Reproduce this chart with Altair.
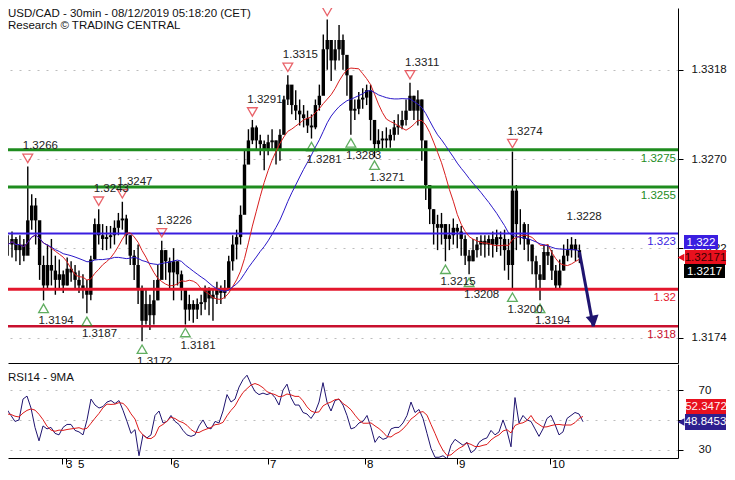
import altair as alt
import pandas as pd

# ---------------- data (hourly bars) ----------------
highs = [
    1.3229, 1.3231, 1.3228, 1.3229, 1.3227, 1.3266, 1.3251, 1.3249, 1.3232, 1.3218,
    1.3224, 1.3227, 1.3218, 1.3216, 1.3210, 1.3217, 1.3215, 1.3213, 1.3210, 1.3208,
    1.3205, 1.3218, 1.3238, 1.3243, 1.3235, 1.3234, 1.3234, 1.3237, 1.3241, 1.3247,
    1.3240, 1.3229, 1.3221, 1.3224, 1.3202, 1.3200, 1.3197, 1.3205, 1.3213, 1.3226,
    1.3221, 1.3217, 1.3222, 1.3215, 1.3210, 1.3200, 1.3197, 1.3194, 1.3195, 1.3197,
    1.3202, 1.3201, 1.3200, 1.3204, 1.3202, 1.3205, 1.3218, 1.3229, 1.3232, 1.3245,
    1.3275, 1.3286, 1.3291, 1.3288, 1.3283, 1.3280, 1.3283, 1.3286, 1.3280, 1.3286,
    1.3304, 1.3315, 1.3307, 1.3307, 1.3302, 1.3299, 1.3296, 1.3294, 1.3302, 1.3310,
    1.3337, 1.3345, 1.3334, 1.3334, 1.3342, 1.3337, 1.3323, 1.3310, 1.3302, 1.3306,
    1.3308, 1.3310, 1.3310, 1.3286, 1.3286, 1.3285, 1.3287, 1.3286, 1.3291, 1.3294,
    1.3296, 1.3302, 1.3311, 1.3304, 1.3307, 1.3302, 1.3275, 1.3253, 1.3243, 1.3240,
    1.3241, 1.3235, 1.3235, 1.3238, 1.3235, 1.3234, 1.3229, 1.3221, 1.3227, 1.3228,
    1.3229, 1.3229, 1.3229, 1.3231, 1.3232, 1.3231, 1.3232, 1.3227, 1.3274, 1.3256,
    1.3243, 1.3236, 1.3235, 1.3224, 1.3218, 1.3213, 1.3224, 1.3224, 1.3221, 1.3213,
    1.3216, 1.3224, 1.3227, 1.3228, 1.3227, 1.3224,
]
lows = [
    1.3218, 1.3217, 1.3215, 1.3213, 1.3215, 1.3221, 1.3232, 1.3224, 1.3205, 1.3194,
    1.3200, 1.3202, 1.3197, 1.3200, 1.3198, 1.3202, 1.3204, 1.3200, 1.3198, 1.3195,
    1.3187, 1.3194, 1.3216, 1.3224, 1.3221, 1.3221, 1.3222, 1.3224, 1.3229, 1.3232,
    1.3224, 1.3213, 1.3205, 1.3192, 1.3172, 1.3181, 1.3178, 1.3181, 1.3194, 1.3208,
    1.3205, 1.3200, 1.3194, 1.3202, 1.3194, 1.3181, 1.3183, 1.3182, 1.3184, 1.3186,
    1.3189, 1.3186, 1.3183, 1.3192, 1.3192, 1.3195, 1.3200, 1.3210, 1.3216, 1.3224,
    1.3248, 1.3269, 1.3278, 1.3275, 1.3272, 1.3264, 1.3272, 1.3275, 1.3267, 1.3269,
    1.3286, 1.3299, 1.3294, 1.3291, 1.3288, 1.3287, 1.3284, 1.3281, 1.3286, 1.3296,
    1.3307, 1.3318, 1.3312, 1.3318, 1.3323, 1.3318, 1.3304, 1.3283, 1.3291, 1.3294,
    1.3297, 1.3299, 1.3280, 1.3271, 1.3274, 1.3275, 1.3276, 1.3276, 1.3280, 1.3283,
    1.3286, 1.3288, 1.3296, 1.3291, 1.3288, 1.3269, 1.3248, 1.3235, 1.3224, 1.3221,
    1.3224, 1.3215, 1.3221, 1.3224, 1.3222, 1.3218, 1.3213, 1.3208, 1.3215, 1.3217,
    1.3218, 1.3217, 1.3218, 1.3217, 1.3220, 1.3218, 1.3210, 1.3205, 1.3200, 1.3221,
    1.3224, 1.3221, 1.3215, 1.3208, 1.3200, 1.3194, 1.3205, 1.3213, 1.3205, 1.3200,
    1.3200, 1.3210, 1.3215, 1.3217, 1.3215, 1.3214,
]
closes = [
    1.3224, 1.3227, 1.3221, 1.3224, 1.3218, 1.3237, 1.3245, 1.3237, 1.3213, 1.3202,
    1.3213, 1.3210, 1.3205, 1.3208, 1.3202, 1.3211, 1.3209, 1.3205, 1.3202, 1.3200,
    1.3197, 1.3216, 1.3235, 1.3229, 1.3227, 1.3228, 1.3229, 1.3233, 1.3237, 1.3238,
    1.3229, 1.3218, 1.3213, 1.3200, 1.3183, 1.3192, 1.3186, 1.3194, 1.3205, 1.3221,
    1.3215, 1.3209, 1.3215, 1.3208, 1.3200, 1.3189, 1.3192, 1.3189, 1.3192, 1.3193,
    1.3200, 1.3195, 1.3197, 1.3200, 1.3198, 1.3200, 1.3215, 1.3224, 1.3228, 1.3240,
    1.3267, 1.3280, 1.3287, 1.3280, 1.3278, 1.3275, 1.3279, 1.3280, 1.3275, 1.3283,
    1.3302, 1.3310, 1.3299, 1.3296, 1.3294, 1.3292, 1.3288, 1.3287, 1.3299, 1.3304,
    1.3329, 1.3334, 1.3323, 1.3329, 1.3334, 1.3326, 1.3315, 1.3296, 1.3297, 1.3302,
    1.3303, 1.3307, 1.3291, 1.3278, 1.3280, 1.3281, 1.3280, 1.3283, 1.3287, 1.3288,
    1.3291, 1.3296, 1.3304, 1.3296, 1.3302, 1.3280, 1.3256, 1.3243, 1.3235, 1.3233,
    1.3235, 1.3227, 1.3229, 1.3233, 1.3231, 1.3227, 1.3218, 1.3215, 1.3221, 1.3224,
    1.3226, 1.3224, 1.3227, 1.3224, 1.3228, 1.3227, 1.3221, 1.3213, 1.3253, 1.3235,
    1.3235, 1.3227, 1.3224, 1.3215, 1.3208, 1.3205, 1.3220, 1.3218, 1.3210, 1.3202,
    1.3210, 1.3218, 1.3221, 1.3224, 1.3221, 1.3217,
]
rsi_values = [
    51, 57, 53, 49, 50, 64, 66, 58, 45, 36,
    46, 44, 45, 41, 40, 45, 47, 47, 43, 42,
    40, 50, 64, 60, 58, 59, 62, 63, 61, 63,
    56.5, 49, 41, 43.5, 26, 40, 38, 40, 53, 56,
    48, 49, 53, 49, 47, 43, 40, 39, 40, 46,
    50, 45, 44, 49, 48, 56, 67, 62, 64, 72,
    77, 80, 74, 69, 67, 68, 67, 68, 65, 60,
    70, 74, 65, 60, 60, 55, 54, 51, 55, 62,
    75, 62, 56, 63, 64, 60, 53, 44, 45, 48,
    49, 53, 45, 35, 39, 37, 38, 44, 45, 45,
    48, 53, 62, 55, 57, 51, 41, 31, 25, 25,
    26, 24, 33, 37, 35, 33, 35, 28, 30, 35,
    37, 38, 43, 40, 42, 50, 42.5, 32, 65, 48,
    53, 50, 49, 44, 39, 44, 51, 53, 47, 40,
    42, 51, 53, 55, 54, 48.8,
]

level_prices = [1.3275, 1.3255, 1.323, 1.32, 1.318]
level_labels = ["1.3275", "1.3255", "1.323", "1.32", "1.318"]

peak_bars = [5, 23, 29, 39, 62, 71, 81, 102, 128]
peak_prices = [1.3266, 1.3243, 1.3247, 1.3226, 1.3291, 1.3315, 1.3345, 1.3311, 1.3274]
trough_bars = [9, 20, 34, 45, 77, 87, 93, 111, 117, 128, 135]
trough_prices = [1.3194, 1.3187, 1.3172, 1.3181, 1.3281, 1.3283, 1.3271, 1.3215, 1.3208, 1.3200, 1.3194]
open_high_bars = [143]
open_high_prices = [1.3228]

target_bars = [145, 148.5]
target_prices = [1.3220, 1.3180]

day_tick_pos = [14.75, 15.75, 42, 66.25, 90.5, 113.5, 136.75]
day_label_pos = [15.75, 18.75, 42.5, 66.75, 91, 114, 137.25]
day_labels = ["3", "5", "6", "7", "8", "9", "10"]

price_ticks = [1.3174, 1.3222, 1.3270, 1.3318]
rsi_ticks = [30, 50, 70]

# ---------------- styling ----------------
W, HM, HR = 670, 355, 94
FONT = "Liberation Sans"
GREEN, BLUE, RED, RED2 = "#1e8c1e", "#3a1ee0", "#e3172d", "#c8102e"
NAVY = "#1f1470"

bars = pd.DataFrame({"i": list(range(len(closes))), "high": highs, "low": lows, "close": closes})
rsi_df = pd.DataFrame({"i": list(range(len(rsi_values))), "rsi": rsi_values})
levels = pd.DataFrame({
    "price": level_prices, "label": level_labels,
    "color": [GREEN, GREEN, BLUE, RED, RED2], "w": [3, 3, 2, 3, 2.5],
})
peaks = pd.DataFrame({"i": peak_bars, "price": peak_prices})
troughs = pd.DataFrame({"i": trough_bars, "price": trough_prices})
open_high = pd.DataFrame({"i": open_high_bars, "price": open_high_prices})
target = pd.DataFrame({"i": target_bars, "price": target_prices})
days = pd.DataFrame({"pos": day_label_pos, "label": day_labels})
one = pd.DataFrame({"a": [0]})

x_scale = alt.Scale(domain=[1.25, 168.75], nice=False, zero=False)
y_scale = alt.Scale(domain=[1.31603, 1.33512], nice=False, zero=False)
r_scale = alt.Scale(domain=[24.5, 87.5], nice=False, zero=False)

x_axis_main = alt.Axis(labels=False, ticks=False, grid=False, domain=True,
                       domainColor="black", title=None)
y_axis_main = alt.Axis(orient="right", values=price_ticks, format=".4f", grid=True,
                       gridColor="#bdbdbd", gridDash=[2, 7], tickSize=5, tickColor="black",
                       domainColor="black", labelPadding=8, labelFontSize=11.5,
                       labelColor="#111111", title=None)
x_axis_rsi = alt.Axis(values=day_tick_pos, labels=False, tickSize=6, tickColor="black",
                      domainColor="black", grid=False, title=None)
y_axis_rsi = alt.Axis(orient="right", values=rsi_ticks, format="d", grid=True,
                      gridColor="#bdbdbd", gridDash=[2, 7], tickSize=5, tickColor="black",
                      domainColor="black", labelPadding=15, labelFontSize=11.5,
                      labelColor="#111111", title=None)


def xm(f):
    return alt.X(f, type="quantitative", scale=x_scale, axis=x_axis_main)


def ym(f):
    return alt.Y(f, type="quantitative", scale=y_scale, axis=y_axis_main)


def xr(f):
    return alt.X(f, type="quantitative", scale=x_scale, axis=x_axis_rsi)


def yr(f):
    return alt.Y(f, type="quantitative", scale=r_scale, axis=y_axis_rsi)


# ---------------- main panel ----------------
wicks = alt.Chart(bars).mark_rule(color="black", strokeWidth=1.4, clip=True).encode(
    x=xm("i"), y=ym("low"), y2="high")
bodies = alt.Chart(bars).transform_window(
    prev="lag(close)", sort=[alt.SortField("i")]
).mark_bar(color="black", size=3.4, clip=True).encode(x=xm("i"), y=ym("prev"), y2="close")

level_rules = alt.Chart(levels).mark_rule(clip=True).encode(
    y=ym("price"), color=alt.Color("color:N", scale=None),
    strokeWidth=alt.StrokeWidth("w:Q", scale=None))
level_text = alt.Chart(levels).mark_text(
    align="right", baseline="middle", dy=9, fontSize=11.5, font=FONT, clip=True
).encode(x=alt.value(W - 2), y=ym("price"), text="label:N",
         color=alt.Color("color:N", scale=None))

ma_fast = alt.Chart(bars).transform_window(
    ma="mean(close)", frame=[-9, 0], sort=[alt.SortField("i")]
).mark_line(color="#d81e1e", strokeWidth=1, clip=True).encode(x=xm("i"), y=ym("ma"))
ma_slow = alt.Chart(bars).transform_window(
    ma="mean(close)", frame=[-22, 0], sort=[alt.SortField("i")]
).mark_line(color="#2a18c8", strokeWidth=1, clip=True).encode(x=xm("i"), y=ym("ma"))

peak_pts = alt.Chart(peaks).mark_point(
    shape="triangle-down", filled=False, size=95, strokeWidth=1.3, color="#e0202a",
    yOffset=-8, clip=True).encode(x=xm("i"), y=ym("price"))
peak_txt = alt.Chart(pd.concat([peaks, open_high])).mark_text(
    align="left", baseline="middle", dx=-5, dy=-20, fontSize=11.5, font=FONT,
    color="#222222", clip=True).encode(x=xm("i"), y=ym("price"),
                                      text=alt.Text("price:Q", format=".4f"))
trough_pts = alt.Chart(troughs).mark_point(
    shape="triangle-up", filled=False, size=95, strokeWidth=1.3, color=GREEN,
    yOffset=8, clip=True).encode(x=xm("i"), y=ym("price"))
trough_txt = alt.Chart(troughs).mark_text(
    align="left", baseline="middle", dx=-5, dy=21, fontSize=11.5, font=FONT,
    color="#222222", clip=True).encode(x=xm("i"), y=ym("price"),
                                      text=alt.Text("price:Q", format=".4f"))

arrow_line = alt.Chart(target).mark_line(color=NAVY, strokeWidth=3, clip=True).encode(
    x=xm("i"), y=ym("price"))
arrow_head = alt.Chart(target.tail(1)).mark_point(
    shape="triangle-down", filled=True, size=170, angle=349, color=NAVY, opacity=1,
    yOffset=-5, clip=True).encode(x=xm("i"), y=ym("price"))

title1 = alt.Chart(one).mark_text(
    align="left", baseline="top", fontSize=11.5, font=FONT, color="#111111",
    text="USD/CAD - 30min - 08/12/2019 05:18:20 (CET)").encode(x=alt.value(0), y=alt.value(0))
title2 = alt.Chart(one).mark_text(
    align="left", baseline="top", fontSize=11.5, font=FONT, color="#111111",
    text="Research \u00a9 TRADING CENTRAL").encode(x=alt.value(0), y=alt.value(12))


def box(x1, x2, y1, y2, fill):
    return alt.Chart(one).mark_rect(color=fill).encode(
        x=alt.value(x1), x2=alt.value(x2), y=alt.value(y1), y2=alt.value(y2))


def box_text(x, y, txt, color):
    return alt.Chart(one).mark_text(
        align="center", baseline="middle", fontSize=11.5, font=FONT, color=color, text=txt
    ).encode(x=alt.value(x), y=alt.value(y))


def pointer(x, y, fill):
    return alt.Chart(one).mark_point(
        shape="triangle-left", filled=True, size=60, color=fill, opacity=1
    ).encode(x=alt.value(x), y=alt.value(y))


main_boxes = [
    box(676, 710, 227, 241, BLUE), box_text(693, 234.5, "1.322", "white"),
    pointer(673, 249.5, "#e8101e"), box(677, 718, 242, 257, "#e8101e"),
    box_text(697.5, 250, "1.32171", "#3a0000"),
    box(676, 717, 256, 270, "black"), box_text(696.5, 263.5, "1.3217", "white"),
]

main = alt.layer(
    wicks, bodies, level_rules, level_text, ma_fast, ma_slow,
    peak_pts, peak_txt, trough_pts, trough_txt, arrow_line, arrow_head,
    title1, title2, *main_boxes
).properties(width=W, height=HM)

# ---------------- RSI panel ----------------
rsi_line = alt.Chart(rsi_df).mark_line(color=NAVY, strokeWidth=1, clip=True).encode(
    x=xr("i"), y=yr("rsi"))
rsi_ma = alt.Chart(rsi_df).transform_window(
    ma="mean(rsi)", frame=[-4, 0], sort=[alt.SortField("i")]
).mark_line(color="#dd1c1c", strokeWidth=1, clip=True).encode(x=xr("i"), y=yr("ma"))
rsi_title = alt.Chart(one).mark_text(
    align="left", baseline="middle", fontSize=11.5, font=FONT, color="#111111",
    text="RSI14 - 9MA").encode(x=alt.value(0), y=alt.value(14))
day_txt = alt.Chart(days).mark_text(
    align="left", baseline="middle", fontSize=11.5, font=FONT, color="black"
).encode(x=xr("pos"), y=alt.value(HR + 6.5), text="label:N")

rsi_boxes = [
    box(678, 718, 35, 50, "#e8101e"), box_text(698, 42.5, "52.3472", "#fff0f0"),
    pointer(673, 58, "#2e1f8f"), box(677, 718, 50, 66, "#2e1f8f"),
    box_text(697.5, 58, "48.8453", "white"),
]

rsi_panel = alt.layer(rsi_line, rsi_ma, rsi_title, day_txt, *rsi_boxes).properties(
    width=W, height=HR)

chart = alt.vconcat(main, rsi_panel, spacing=1).properties(
    padding={"left": 0, "top": 0, "right": 0, "bottom": 0}
).configure(font=FONT, background="white").configure_view(stroke=None).configure_axis(
    labelFont=FONT, labelFontSize=11.5, labelColor="#111111"
)

chart.save("out.html", embed_options={"renderer": "svg", "actions": False})
